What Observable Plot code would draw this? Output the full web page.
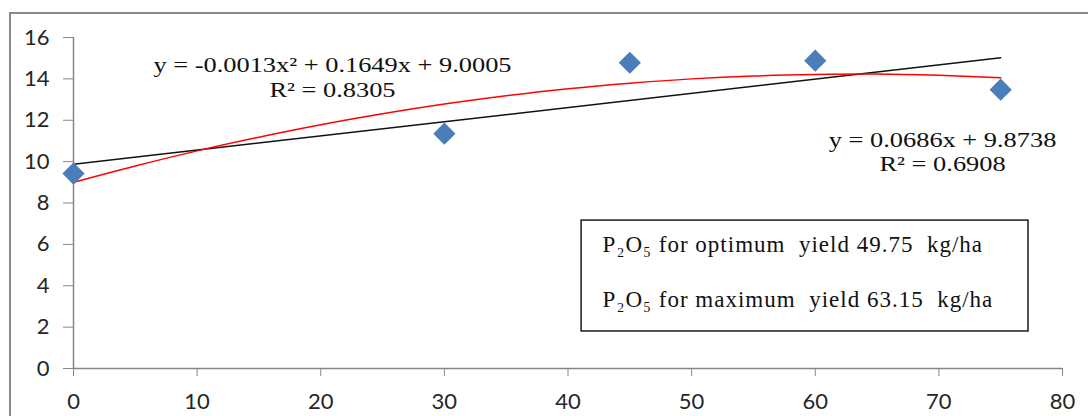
<!DOCTYPE html>
<html>
<head>
<meta charset="utf-8">
<script src="https://cdn.jsdelivr.net/npm/d3@7"></script>
<script src="https://cdn.jsdelivr.net/npm/@observablehq/plot@0.6"></script>
<style>
  html, body { margin: 0; padding: 0; background: #ffffff; }
  #wrap { position: relative; width: 1088px; height: 416px; overflow: hidden; background: #ffffff; }
  #wrap svg { position: absolute; left: 0; top: 0; }
  #frame { position: absolute; left: 9px; top: 12px; width: 1300px; height: 700px;
           border-left: 2px solid #8a8a8a; border-top: 2px solid #8a8a8a; pointer-events: none; }
  .boxtxt text { letter-spacing: 1px; }
</style>
</head>
<body>
<div id="wrap"><div id="frame"></div></div>
<script>
// P2O5 dose (kg/ha) and observed yield
const doses = [0, 30, 45, 60, 75];
const yields = [9.42, 11.35, 14.78, 14.88, 13.48];

// Linear trendline as drawn (y = 0.0686x + 9.8738), end points
const linX = [0, 75];
const linY = [9.87, 15.02];

// Polynomial trendline as drawn (y = -0.0013x² + 0.1649x + 9.0005)
const polyX = [0, 5, 10, 15, 20, 25, 30, 35, 40, 45, 50, 55, 60, 65, 70, 75];
const polyY = [9.00, 9.79, 10.52, 11.18, 11.78, 12.31, 12.78, 13.18, 13.52, 13.79, 14.00, 14.14, 14.21, 14.23, 14.17, 14.06];

const xTicks = [0, 10, 20, 30, 40, 50, 60, 70, 80];
const yTicks = [0, 2, 4, 6, 8, 10, 12, 14, 16];

// Annotation texts
const polyEq = ["y = -0.0013x² + 0.1649x + 9.0005", "R² = 0.8305"];
const linEq = ["y = 0.0686x + 9.8738", "R² = 0.6908"];
const boxLines = ["P₂O₅ for optimum  yield 49.75  kg/ha", "P₂O₅ for maximum  yield 63.15  kg/ha"];

const points = doses.map((d, i) => ({x: d, y: yields[i]}));
const lin = linX.map((d, i) => ({x: d, y: linY[i]}));
const poly = polyX.map((d, i) => ({x: d, y: polyY[i]}));

// annotation anchors in data space (text centres)
const polyEqPos = [{x: 20.95, y: 14.68, t: polyEq[0]}, {x: 20.95, y: 13.48, t: polyEq[1]}];
const linEqPos = [{x: 70.3, y: 11.06, t: linEq[0]}, {x: 70.3, y: 9.90, t: linEq[1]}];
const boxRect = [{x1: 41.1, x2: 77.25, y1: 1.79, y2: 7.15}];
const boxText = [{x: 42.8, y: 5.99, t: boxLines[0]}, {x: 42.8, y: 3.33, t: boxLines[1]}];

const serif = "'Liberation Serif', 'Times New Roman', serif";

const chart = Plot.plot({
  width: 1088,
  height: 416,
  marginLeft: 73,
  marginRight: 26,
  marginTop: 37,
  marginBottom: 48,
  style: {fontFamily: "Lato, 'Open Sans', sans-serif", fontSize: "22px", color: "#262626", background: "transparent"},
  x: {domain: [0, 80]},
  y: {domain: [0, 16]},
  marks: [
    Plot.axisX({ticks: xTicks, tickSize: 8, tickPadding: 17, stroke: "#868686", fill: "#262626", label: null, tickFormat: d => String(d)}),
    Plot.axisY({ticks: yTicks, tickSize: 10, tickPadding: 14, stroke: "#868686", fill: "#262626", label: null, tickFormat: d => String(d)}),
    Plot.ruleY([0], {stroke: "#868686", strokeWidth: 1.5}),
    Plot.ruleX([0], {stroke: "#868686", strokeWidth: 1.5}),
    Plot.line(lin, {x: "x", y: "y", stroke: "#111111", strokeWidth: 1.5}),
    Plot.line(poly, {x: "x", y: "y", stroke: "#ff0000", strokeWidth: 1.5, curve: "catmull-rom"}),
    Plot.dot(points, {x: "x", y: "y", symbol: "diamond2", r: 10, fill: "#4a7ebb", stroke: "none"}),
    Plot.text(polyEqPos, {x: "x", y: "y", text: "t", textAnchor: "middle", lineAnchor: "middle", fontFamily: serif, fontSize: 22, fill: "#111111", className: "eq"}),
    Plot.text(linEqPos, {x: "x", y: "y", text: "t", textAnchor: "middle", lineAnchor: "middle", fontFamily: serif, fontSize: 22, fill: "#111111", className: "eq"}),
    Plot.rect(boxRect, {x1: "x1", x2: "x2", y1: "y1", y2: "y2", fill: "white", stroke: "#1a1a1a", strokeWidth: 1.5}),
    Plot.text(boxText, {x: "x", y: "y", text: "t", textAnchor: "start", lineAnchor: "middle", fontFamily: serif, fontSize: 23, fill: "#111111", className: "boxtxt"})
  ]
});
// widen the equation texts horizontally (the reference's Times glyphs are stretched)
chart.querySelectorAll("g.eq text").forEach(t => {
  const tr = t.getAttribute("transform") || "";
  t.setAttribute("transform", tr + " scale(1.2,1)");
});
document.getElementById("wrap").insertBefore(chart, document.getElementById("frame"));
</script>
</body>
</html>
